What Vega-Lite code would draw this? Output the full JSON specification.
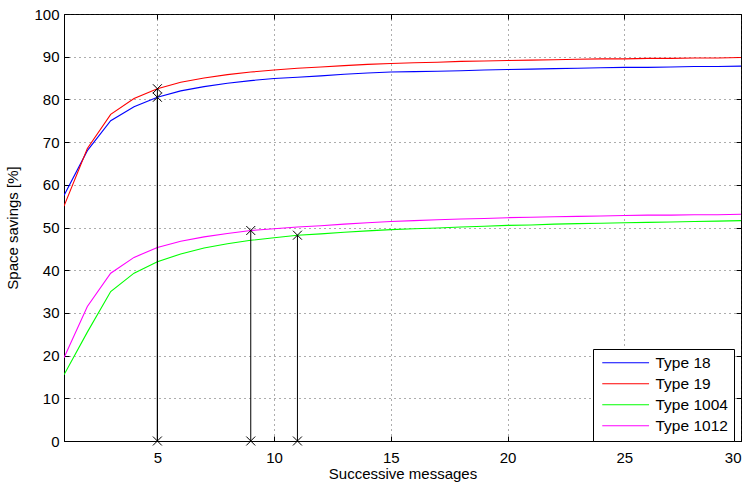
{
  "$schema": "https://vega.github.io/schema/vega-lite/v6.json",
  "autosize": "none",
  "width": 677,
  "height": 427,
  "padding": {"left": 64, "top": 14, "right": 14, "bottom": 43},
  "background": "white",
  "config": {
    "view": {"stroke": "black", "strokeWidth": 1},
    "font": "Liberation Sans",
    "axis": {
      "labelFont": "Liberation Sans",
      "titleFont": "Liberation Sans",
      "labelFontSize": 15,
      "titleFontSize": 15,
      "titleFontWeight": "normal",
      "labelColor": "black",
      "titleColor": "black",
      "domainColor": "black",
      "tickColor": "black",
      "tickSize": -5,
      "gridColor": "#333333",
      "gridDash": [1, 4],
      "gridOpacity": 0.8,
      "gridWidth": 1
    }
  },
  "resolve": {"axis": {"x": "independent", "y": "independent"}},
  "datasets": {
    "series": [
      {"x": 1, "Type 18": 57.5, "Type 19": 55, "Type 1004": 15.5, "Type 1012": 19.5},
      {"x": 2, "Type 18": 68, "Type 19": 68.5, "Type 1004": 25.5, "Type 1012": 31.5},
      {"x": 3, "Type 18": 75, "Type 19": 76.5, "Type 1004": 35, "Type 1012": 39.3},
      {"x": 4, "Type 18": 78.3, "Type 19": 80.2, "Type 1004": 39.3, "Type 1012": 43},
      {"x": 5, "Type 18": 80.5, "Type 19": 82.5, "Type 1004": 42, "Type 1012": 45.3},
      {"x": 6, "Type 18": 82, "Type 19": 84, "Type 1004": 43.8, "Type 1012": 46.8},
      {"x": 7, "Type 18": 83, "Type 19": 85, "Type 1004": 45.2, "Type 1012": 47.8},
      {"x": 8, "Type 18": 83.8, "Type 19": 85.8, "Type 1004": 46.2, "Type 1012": 48.6},
      {"x": 9, "Type 18": 84.4, "Type 19": 86.4, "Type 1004": 47, "Type 1012": 49.3},
      {"x": 10, "Type 18": 84.9, "Type 19": 86.9, "Type 1004": 47.6, "Type 1012": 49.7},
      {"x": 11, "Type 18": 85.2, "Type 19": 87.3, "Type 1004": 48.2, "Type 1012": 50.1},
      {"x": 12, "Type 18": 85.5, "Type 19": 87.6, "Type 1004": 48.5, "Type 1012": 50.4},
      {"x": 13, "Type 18": 85.9, "Type 19": 87.9, "Type 1004": 48.9, "Type 1012": 50.8},
      {"x": 14, "Type 18": 86.2, "Type 19": 88.2, "Type 1004": 49.2, "Type 1012": 51.1},
      {"x": 15, "Type 18": 86.4, "Type 19": 88.4, "Type 1004": 49.5, "Type 1012": 51.4},
      {"x": 16, "Type 18": 86.5, "Type 19": 88.6, "Type 1004": 49.7, "Type 1012": 51.6},
      {"x": 17, "Type 18": 86.6, "Type 19": 88.7, "Type 1004": 49.9, "Type 1012": 51.8},
      {"x": 18, "Type 18": 86.7, "Type 19": 88.9, "Type 1004": 50.1, "Type 1012": 52.0},
      {"x": 19, "Type 18": 86.9, "Type 19": 89.0, "Type 1004": 50.3, "Type 1012": 52.1},
      {"x": 20, "Type 18": 87.0, "Type 19": 89.1, "Type 1004": 50.5, "Type 1012": 52.3},
      {"x": 21, "Type 18": 87.1, "Type 19": 89.2, "Type 1004": 50.6, "Type 1012": 52.4},
      {"x": 22, "Type 18": 87.2, "Type 19": 89.3, "Type 1004": 50.8, "Type 1012": 52.5},
      {"x": 23, "Type 18": 87.3, "Type 19": 89.4, "Type 1004": 50.9, "Type 1012": 52.6},
      {"x": 24, "Type 18": 87.4, "Type 19": 89.5, "Type 1004": 51.0, "Type 1012": 52.7},
      {"x": 25, "Type 18": 87.5, "Type 19": 89.5, "Type 1004": 51.1, "Type 1012": 52.8},
      {"x": 26, "Type 18": 87.5, "Type 19": 89.6, "Type 1004": 51.2, "Type 1012": 52.9},
      {"x": 27, "Type 18": 87.6, "Type 19": 89.6, "Type 1004": 51.3, "Type 1012": 52.9},
      {"x": 28, "Type 18": 87.7, "Type 19": 89.7, "Type 1004": 51.4, "Type 1012": 53.0},
      {"x": 29, "Type 18": 87.7, "Type 19": 89.7, "Type 1004": 51.5, "Type 1012": 53.0},
      {"x": 30, "Type 18": 87.8, "Type 19": 89.8, "Type 1004": 51.6, "Type 1012": 53.1}
    ],
    "stems": [
      {"x": 5, "y": 82.5},
      {"x": 5, "y": 80.5},
      {"x": 9, "y": 49.3},
      {"x": 11, "y": 48.2}
    ],
    "marks": [
      {"x": 5, "y": 82.5},
      {"x": 5, "y": 80.5},
      {"x": 9, "y": 49.3},
      {"x": 11, "y": 48.2},
      {"x": 5, "y": 0},
      {"x": 9, "y": 0},
      {"x": 11, "y": 0}
    ]
  },
  "layer": [
    {
      "data": {"name": "series"},
      "transform": [{"fold": ["Type 18", "Type 19", "Type 1004", "Type 1012"], "as": ["type", "value"]}],
      "mark": {"type": "line", "strokeWidth": 1.1, "clip": true},
      "encoding": {
        "x": {
          "field": "x", "type": "quantitative",
          "scale": {"domain": [1, 30], "nice": false, "zero": false},
          "axis": {"values": [5, 10, 15, 20, 25, 30], "title": "Successive messages", "titlePadding": 1, "labelPadding": 14, "grid": true}
        },
        "y": {
          "field": "value", "type": "quantitative",
          "scale": {"domain": [0, 100], "nice": false},
          "axis": {"values": [0, 10, 20, 30, 40, 50, 60, 70, 80, 90, 100], "title": "Space savings [%]", "titlePadding": 13, "labelPadding": 10, "grid": true}
        },
        "color": {
          "field": "type", "type": "nominal",
          "scale": {"domain": ["Type 18", "Type 19", "Type 1004", "Type 1012"], "range": ["#0000ff", "#ff0000", "#00ff00", "#ff00ff"]},
          "legend": {
            "title": null,
            "orient": "none",
            "legendX": 529,
            "legendY": 335,
            "symbolType": "M-1,0L9.4,0",
            "symbolSize": 81,
            "symbolStrokeWidth": 1.2,
            "labelFontSize": 15.5,
            "labelFont": "Liberation Sans",
            "labelColor": "black",
            "strokeColor": "black",
            "fillColor": "white",
            "padding": 6,
            "rowPadding": 4,
            "labelOffset": 41
          }
        }
      }
    },
    {
      "data": {"name": "stems"},
      "mark": {"type": "rule", "color": "black", "strokeWidth": 1},
      "encoding": {
        "x": {"field": "x", "type": "quantitative", "axis": {"orient": "top", "values": [5, 10, 15, 20, 25, 30], "labels": false, "title": null, "grid": false, "domain": false}},
        "y": {"field": "y", "type": "quantitative", "axis": {"orient": "right", "values": [0, 10, 20, 30, 40, 50, 60, 70, 80, 90, 100], "labels": false, "title": null, "grid": false, "domain": false}},
        "y2": {"datum": 0}
      }
    },
    {
      "data": {"name": "marks"},
      "mark": {"type": "point", "shape": "M-1,-1L1,1M-1,1L1,-1", "filled": false, "color": "black", "size": 80, "strokeWidth": 1, "opacity": 1, "clip": false},
      "encoding": {
        "x": {"field": "x", "type": "quantitative", "axis": null},
        "y": {"field": "y", "type": "quantitative", "axis": null}
      }
    }
  ]
}
